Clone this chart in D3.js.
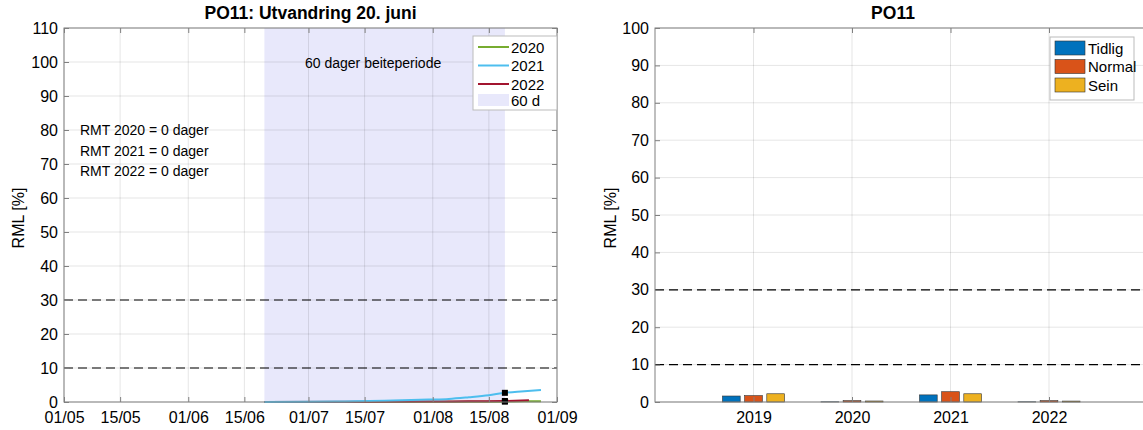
<!DOCTYPE html>
<html><head><meta charset="utf-8">
<script src="https://cdn.jsdelivr.net/npm/d3@7"></script>
<style>body{margin:0;background:#fff;} text{font-family:"Liberation Sans",Arial,Helvetica,sans-serif;}</style>
</head><body><svg id="c" width="1143" height="430"></svg>
<script>
// ---------- data ----------
const leftTitle = "PO11: Utvandring 20. juni";
const rightTitle = "PO11";
const xTickDates = ["2021-05-01","2021-05-15","2021-06-01","2021-06-15","2021-07-01","2021-07-15","2021-08-01","2021-08-15","2021-09-01"];
const xTickLabels = ["01/05","15/05","01/06","15/06","01/07","15/07","01/08","15/08","01/09"];
const periodStart = "2021-06-20";
const periodEnd = "2021-08-19";
const seriesNames = ["2020","2021","2022"];
const dates2020 = ["2021-06-20","2021-07-15","2021-08-10","2021-08-19","2021-08-24","2021-08-28"];
const vals2020  = [0, 0.02, 0.05, 0.1, 0.2, 0.25];
const dates2021 = ["2021-06-20","2021-07-01","2021-07-10","2021-07-20","2021-07-31","2021-08-05","2021-08-10","2021-08-15","2021-08-19","2021-08-23","2021-08-28"];
const vals2021  = [0, 0.05, 0.15, 0.35, 0.7, 0.9, 1.4, 2.0, 2.7, 3.1, 3.5];
const dates2022 = ["2021-06-20","2021-07-15","2021-08-01","2021-08-10","2021-08-19","2021-08-25"];
const vals2022  = [0, 0.05, 0.15, 0.2, 0.3, 0.5];
const rmtTexts = ["RMT 2020 = 0 dager","RMT 2021 = 0 dager","RMT 2022 = 0 dager"];
const periodLabel = "60 dager beiteperiode";
const periodLegend = "60 d";
const thresholds = [10, 30];

const years = [2019, 2020, 2021, 2022];
const barNames = ["Tidlig","Normal","Sein"];
const barTidlig = [1.6, 0.05, 1.9, 0.05];
const barNormal = [1.7, 0.35, 2.75, 0.35];
const barSein   = [2.2, 0.27, 2.2, 0.25];

// ---------- styles ----------
const lineColors = ["#77AC30","#4DBEEE","#A2142F"];
const barColors = ["#0072BD","#D95319","#EDB120"];
const shadeColor = "#E8E8FB";
const axisColor = "#808080";
const font = 16;

const svg = d3.select("#c");
const parse = d3.utcParse("%Y-%m-%d");

// ---------- left plot ----------
const L = {x0:64, x1:557, y0:402, y1:28};
const xL = d3.scaleUtc().domain([parse(xTickDates[0]), parse(xTickDates[xTickDates.length-1])]).range([L.x0, L.x1]);
const yL = d3.scaleLinear().domain([0,110]).range([L.y0, L.y1]);
const yTicksL = d3.range(0,111,10);

const gL = svg.append("g");
gL.append("rect").attr("x", xL(parse(periodStart))).attr("y", yL(110))
  .attr("width", xL(parse(periodEnd)) - xL(parse(periodStart))).attr("height", yL(0)-yL(110))
  .attr("fill", shadeColor);
gL.selectAll(".vg").data(xTickDates).enter().append("line")
  .attr("x1", d=>xL(parse(d))).attr("x2", d=>xL(parse(d))).attr("y1", L.y0).attr("y2", L.y1)
  .attr("stroke","#000").attr("stroke-opacity",0.1).attr("stroke-width",1);
gL.selectAll(".hg").data(yTicksL).enter().append("line")
  .attr("x1", L.x0).attr("x2", L.x1).attr("y1", d=>yL(d)).attr("y2", d=>yL(d))
  .attr("stroke","#000").attr("stroke-opacity",0.1).attr("stroke-width",1);
gL.selectAll(".th").data(thresholds).enter().append("line")
  .attr("x1", L.x0).attr("x2", L.x1).attr("y1", d=>yL(d)).attr("y2", d=>yL(d))
  .attr("stroke","#000").attr("stroke-width",1.2).attr("stroke-dasharray","9,5");
const seriesL = [[dates2020, vals2020],[dates2021, vals2021],[dates2022, vals2022]];
const lineGen = d3.line().x(d=>xL(d[0])).y(d=>yL(d[1])).curve(d3.curveMonotoneX);
[0,2,1].forEach(i=>{
  const pts = seriesL[i][0].map((d,j)=>[parse(d), seriesL[i][1][j]]);
  gL.append("path").datum(pts).attr("d", lineGen).attr("fill","none")
    .attr("stroke", lineColors[i]).attr("stroke-width",2);
});
seriesL.forEach((s,i)=>{
  const j = s[0].indexOf(periodEnd);
  const v = s[1][j];
  gL.append("rect").attr("x", xL(parse(periodEnd))-3).attr("y", yL(v)-3).attr("width",6).attr("height",6).attr("fill","#000");
});
const axL = gL.append("g");
axL.append("rect").attr("x",L.x0).attr("y",L.y1).attr("width",L.x1-L.x0).attr("height",L.y0-L.y1)
  .attr("fill","none").attr("stroke",axisColor).attr("stroke-width",1);
axL.append("g").attr("transform",`translate(0,${L.y0})`).call(d3.axisBottom(xL).tickValues(xTickDates.map(parse)).tickFormat((d,i)=>xTickLabels[i]).tickSizeInner(-5).tickSizeOuter(0).tickPadding(10));
axL.append("g").attr("transform",`translate(0,${L.y1})`).call(d3.axisTop(xL).tickValues(xTickDates.map(parse)).tickFormat("").tickSizeInner(-5).tickSizeOuter(0));
axL.append("g").attr("transform",`translate(${L.x0},0)`).call(d3.axisLeft(yL).tickValues(yTicksL).tickSizeInner(-5).tickSizeOuter(0).tickPadding(6));
axL.append("g").attr("transform",`translate(${L.x1},0)`).call(d3.axisRight(yL).tickValues(yTicksL).tickFormat("").tickSizeInner(-5).tickSizeOuter(0));
axL.selectAll(".domain").remove();
axL.selectAll(".tick line").attr("stroke",axisColor);
axL.selectAll(".tick text").attr("font-size",font).attr("fill","#000").style("font-family","Liberation Sans, Arial, sans-serif");

gL.append("text").attr("x",(L.x0+L.x1)/2).attr("y",19).attr("text-anchor","middle").attr("font-size",17.5).attr("font-weight","bold").text(leftTitle);
gL.append("text").attr("x",20).attr("y",218).attr("transform","rotate(-90,20,218)").attr("text-anchor","middle").attr("dominant-baseline","middle").attr("font-size",16).text("RML [%]");
gL.append("text").attr("x",305).attr("y",68).attr("font-size",14).text(periodLabel);
rmtTexts.forEach((t,i)=>gL.append("text").attr("x",80).attr("y",135+i*20.5).attr("font-size",14).text(t));

const lgL = gL.append("g").attr("transform","translate(473,36)");
lgL.append("rect").attr("width",84).attr("height",74).attr("fill","#fff").attr("stroke","#bbb").attr("stroke-width",1);
seriesNames.forEach((n,i)=>{
  const y = 11 + i*18.5;
  lgL.append("line").attr("x1",5).attr("x2",36).attr("y1",y).attr("y2",y).attr("stroke",lineColors[i]).attr("stroke-width",2);
  lgL.append("text").attr("x",38).attr("y",y+5.5).attr("font-size",15).text(n);
});
lgL.append("rect").attr("x",5).attr("y",58).attr("width",31).attr("height",12).attr("fill",shadeColor);
lgL.append("text").attr("x",38).attr("y",70).attr("font-size",15).text(periodLegend);

// ---------- right plot ----------
const R = {x0:655, y0:402, y1:28};
const xR = d3.scaleLinear().domain([2018, 2023]).range([R.x0, R.x0 + 5*98.5]);
const R_x1 = xR(2023);
const yR = d3.scaleLinear().domain([0,100]).range([R.y0, R.y1]);
const yTicksR = d3.range(0,101,10);
const gR = svg.append("g");
gR.selectAll(".vg").data(years).enter().append("line")
  .attr("x1", d=>xR(d)).attr("x2", d=>xR(d)).attr("y1", R.y0).attr("y2", R.y1)
  .attr("stroke","#000").attr("stroke-opacity",0.1);
gR.selectAll(".hg").data(yTicksR).enter().append("line")
  .attr("x1", R.x0).attr("x2", R_x1).attr("y1", d=>yR(d)).attr("y2", d=>yR(d))
  .attr("stroke","#000").attr("stroke-opacity",0.1);
gR.selectAll(".th").data(thresholds).enter().append("line")
  .attr("x1", R.x0).attr("x2", R_x1).attr("y1", d=>yR(d)).attr("y2", d=>yR(d))
  .attr("stroke","#000").attr("stroke-width",1.2).attr("stroke-dasharray","9,5");
const barSeries = [barTidlig, barNormal, barSein];
const offsets = [-0.225, 0, 0.225];
const bw = 0.18;
barSeries.forEach((vals,k)=>{
  gR.selectAll(".b"+k).data(vals).enter().append("rect")
    .attr("x",(d,i)=>xR(years[i]+offsets[k]-bw/2))
    .attr("width", xR(2018+bw)-xR(2018))
    .attr("y", d=>yR(d)).attr("height", d=>yR(0)-yR(d))
    .attr("fill", barColors[k]).attr("stroke","#333").attr("stroke-width",0.6);
});
const axR = gR.append("g");
axR.append("rect").attr("x",R.x0).attr("y",R.y1).attr("width",R_x1-R.x0).attr("height",R.y0-R.y1)
  .attr("fill","none").attr("stroke",axisColor);
axR.append("g").attr("transform",`translate(0,${R.y0})`).call(d3.axisBottom(xR).tickValues(years).tickFormat(d3.format("d")).tickSizeInner(-5).tickSizeOuter(0).tickPadding(10));
axR.append("g").attr("transform",`translate(0,${R.y1})`).call(d3.axisTop(xR).tickValues(years).tickFormat("").tickSizeInner(-5).tickSizeOuter(0));
axR.append("g").attr("transform",`translate(${R.x0},0)`).call(d3.axisLeft(yR).tickValues(yTicksR).tickSizeInner(-5).tickSizeOuter(0).tickPadding(6));
axR.selectAll(".domain").remove();
axR.selectAll(".tick line").attr("stroke",axisColor);
axR.selectAll(".tick text").attr("font-size",font).attr("fill","#000").style("font-family","Liberation Sans, Arial, sans-serif");
gR.append("text").attr("x",893).attr("y",19).attr("text-anchor","middle").attr("font-size",17.5).attr("font-weight","bold").text(rightTitle);
gR.append("text").attr("x",612).attr("y",218).attr("transform","rotate(-90,612,218)").attr("text-anchor","middle").attr("dominant-baseline","middle").attr("font-size",16).text("RML [%]");
const lgR = gR.append("g").attr("transform","translate(1050,37)");
lgR.append("rect").attr("width",84).attr("height",63).attr("fill","#fff").attr("stroke","#bbb");
barNames.forEach((n,i)=>{
  const y = 4 + i*18.5;
  lgR.append("rect").attr("x",5).attr("y",y).attr("width",30).attr("height",14).attr("fill",barColors[i]).attr("stroke","#333").attr("stroke-width",0.6);
  lgR.append("text").attr("x",38).attr("y",y+12.5).attr("font-size",15).text(n);
});
</script></body></html>
